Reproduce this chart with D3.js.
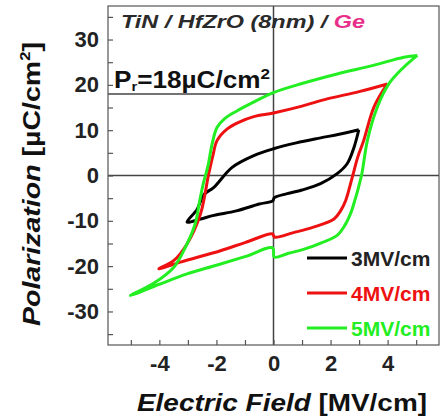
<!DOCTYPE html>
<html>
<head>
<meta charset="utf-8">
<script src="https://cdn.jsdelivr.net/npm/d3@7"></script>
<style>
  body { margin: 0; background: #fff; }
  svg { display: block; font-family: "Liberation Sans", Arial, sans-serif; }
</style>
</head>
<body>
<div class="chart"></div>
<script>
// data: [field MV/cm, polarization uC/cm2]
// upper branch from +Emax down to -Emax, then lower branch back up
const LOOP_3MV = [
  [2.99, 10.1], [2.3, 9.1], [1.65, 8.3], [0.8, 7.2], [0, 5.9], [-0.69, 4.4],
  [-1.45, 1.8], [-2.09, -2.6], [-2.44, -4.2], [-2.68, -7.5], [-3.03, -10.3],
  [-2.56, -9.6], [-2.09, -8.8], [-1.3, -7.8], [-0.5, -6.3], [-0.03, -5.6],
  [0.03, -4.9], [0.48, -4.0], [1.0, -3.2], [1.65, -1.8], [2.23, 0.4],
  [2.58, 2.6], [2.82, 6.2], [2.99, 10.1]
];
const LOOP_4MV = [
  [3.99, 20.2], [3.0, 18.5], [1.88, 16.9], [1.0, 15.3], [0, 13.8], [-0.69, 13.0],
  [-1.2, 11.8], [-1.62, 10.3], [-1.98, 7.7], [-2.12, 4.5], [-2.27, 0.4],
  [-2.56, -8.5], [-3.03, -15.1], [-3.5, -18.8], [-4.02, -20.6],
  [-3.26, -19.1], [-1.86, -16.6], [-1.0, -14.8], [-0.03, -12.9], [0.03, -13.6],
  [0.7, -12.6], [1.4, -11.4], [2.12, -9.6], [2.35, -7.8], [2.53, -5.5],
  [2.76, -0.4], [2.95, 4.0], [3.16, 7.7], [3.52, 15.1], [3.99, 20.2]
];
const LOOP_5MV = [
  [5.04, 26.5], [4.57, 26.1], [3.5, 24.3], [2.23, 22.4], [1.0, 20.3], [0, 18.3],
  [-0.7, 16.2], [-1.27, 14.3], [-1.7, 12.6], [-1.98, 10.6], [-2.15, 7.0],
  [-2.3, 2.0], [-2.45, -1.5], [-2.6, -6.0], [-2.74, -10.6], [-3.1, -16.0],
  [-3.5, -20.3], [-4.2, -23.8], [-5.02, -26.5],
  [-4.0, -24.0], [-3.03, -21.7], [-2.0, -19.8], [-1.0, -17.9], [-0.03, -16.0],
  [0.03, -18.0], [0.5, -17.2], [1.05, -16.3], [1.7, -14.8], [2.23, -13.2],
  [2.5, -11.0], [2.7, -8.4], [2.85, -5.5], [2.98, -2.6], [3.1, 0.5],
  [3.29, 7.7], [3.64, 15.1], [4.04, 20.2], [4.5, 23.5], [5.04, 26.5]
];

const SERIES_NAMES = ["3MV/cm", "4MV/cm", "5MV/cm"];
const SERIES_LOOPS = [LOOP_3MV, LOOP_4MV, LOOP_5MV];
const SERIES_COLORS = ["#000000", "#ee1111", "#22ee22"];

const X_TICKS = [-4, -2, 0, 2, 4];
const Y_TICKS = [-30, -20, -10, 0, 10, 20, 30];
const PR_VALUE = 18;

const WIDTH = 440;
const HEIGHT = 420;
const PLOT = { left: 108, right: 439, top: 6, bottom: 345 };

const svg = d3.select(".chart").append("svg")
  .attr("width", WIDTH)
  .attr("height", HEIGHT);

const x = d3.scaleLinear().domain([-5.8, 5.8]).range([PLOT.left, PLOT.right]);
const y = d3.scaleLinear().domain([-37.4, 37.4]).range([PLOT.bottom, PLOT.top]);

// zero lines and Pr marker
svg.append("line")
  .attr("x1", x(0)).attr("x2", x(0))
  .attr("y1", PLOT.top).attr("y2", PLOT.bottom)
  .attr("stroke", "#444").attr("stroke-width", 1.5);
svg.append("line")
  .attr("x1", PLOT.left).attr("x2", PLOT.right)
  .attr("y1", y(0)).attr("y2", y(0))
  .attr("stroke", "#444").attr("stroke-width", 1.5);
svg.append("line")
  .attr("x1", PLOT.left).attr("x2", x(0))
  .attr("y1", y(PR_VALUE)).attr("y2", y(PR_VALUE))
  .attr("stroke", "#444").attr("stroke-width", 1.5);

// loops
const line = d3.line()
  .x(d => x(d[0]))
  .y(d => y(d[1]))
  .curve(d3.curveCatmullRom.alpha(0.5));

svg.selectAll(".loop")
  .data(SERIES_LOOPS)
  .enter()
  .append("path")
  .attr("class", "loop")
  .attr("d", line)
  .attr("fill", "none")
  .attr("stroke", (d, i) => SERIES_COLORS[i])
  .attr("stroke-width", 3)
  .attr("stroke-linejoin", "round");

// frame
svg.append("rect")
  .attr("x", PLOT.left).attr("y", PLOT.top)
  .attr("width", PLOT.right - PLOT.left).attr("height", PLOT.bottom - PLOT.top)
  .attr("fill", "none").attr("stroke", "#555").attr("stroke-width", 1.2);

// axes, ticks pointing inward
svg.append("g")
  .attr("transform", `translate(0,${PLOT.bottom})`)
  .call(d3.axisTop(x).tickValues(d3.range(-5, 6, 1)).tickSize(5).tickFormat(""));
svg.append("g")
  .attr("transform", `translate(0,${PLOT.bottom})`)
  .call(d3.axisBottom(x).tickValues(X_TICKS).tickSize(0).tickPadding(10).tickFormat(d => String(d)));

svg.append("g")
  .attr("transform", `translate(${PLOT.left},0)`)
  .call(d3.axisRight(y).tickValues(d3.range(-35, 36, 5)).tickSize(5).tickFormat(""));
svg.append("g")
  .attr("transform", `translate(${PLOT.left},0)`)
  .call(d3.axisLeft(y).tickValues(Y_TICKS).tickSize(0).tickPadding(9).tickFormat(d => String(d)));

svg.selectAll(".domain").remove();
svg.selectAll(".tick line").attr("stroke", "#555").attr("stroke-width", 1.2);
svg.selectAll(".tick text")
  .attr("font-family", "Liberation Sans, Arial, sans-serif")
  .attr("font-size", 22)
  .attr("font-weight", "bold")
  .attr("fill", "#222");

// axis titles
const xTitle = svg.append("text")
  .attr("x", 137).attr("y", 411)
  .attr("textLength", 290).attr("lengthAdjust", "spacingAndGlyphs")
  .attr("font-size", 24).attr("font-weight", "bold").attr("fill", "#111");
xTitle.append("tspan").attr("font-style", "italic").text("Electric Field");
xTitle.append("tspan").text(" [MV/cm]");

const yTitle = svg.append("text")
  .attr("transform", "translate(40,326) rotate(-90)")
  .attr("textLength", 284).attr("lengthAdjust", "spacingAndGlyphs")
  .attr("font-size", 24).attr("font-weight", "bold").attr("fill", "#111");
yTitle.append("tspan").attr("font-style", "italic").text("Polarization");
yTitle.append("tspan").text(" [µC/cm");
yTitle.append("tspan").attr("font-size", 14).attr("dy", -10).text("2");
yTitle.append("tspan").attr("dy", 10).text("]");

// annotations
const title = svg.append("text")
  .attr("x", 121).attr("y", 28)
  .attr("textLength", 244).attr("lengthAdjust", "spacingAndGlyphs")
  .attr("font-size", 19).attr("font-weight", "bold").attr("font-style", "italic")
  .attr("fill", "#2a2a2a");
title.append("tspan").text("TiN / HfZrO (8nm) / ");
title.append("tspan").attr("fill", "#e8308a").text("Ge");

const pr = svg.append("text")
  .attr("x", 114).attr("y", 88)
  .attr("textLength", 156).attr("lengthAdjust", "spacingAndGlyphs")
  .attr("font-size", 23).attr("font-weight", "bold").attr("fill", "#111");
pr.append("tspan").text("P");
pr.append("tspan").attr("font-size", 13).attr("dy", 3).text("r");
pr.append("tspan").attr("dy", -3).text("=18µC/cm");
pr.append("tspan").attr("font-size", 15).attr("dy", -9).text("2");

// legend
const legend = svg.selectAll(".legend")
  .data(SERIES_NAMES)
  .enter()
  .append("g")
  .attr("class", "legend")
  .attr("transform", (d, i) => `translate(307,${258 + i * 35})`);
legend.append("line")
  .attr("x1", 0).attr("x2", 40)
  .attr("stroke", (d, i) => SERIES_COLORS[i])
  .attr("stroke-width", 3);
legend.append("text")
  .attr("x", 44).attr("y", 7.5)
  .attr("font-size", 21).attr("font-weight", "bold")
  .attr("fill", (d, i) => i === 0 ? "#222" : SERIES_COLORS[i])
  .text(d => d);
</script>
</body>
</html>
